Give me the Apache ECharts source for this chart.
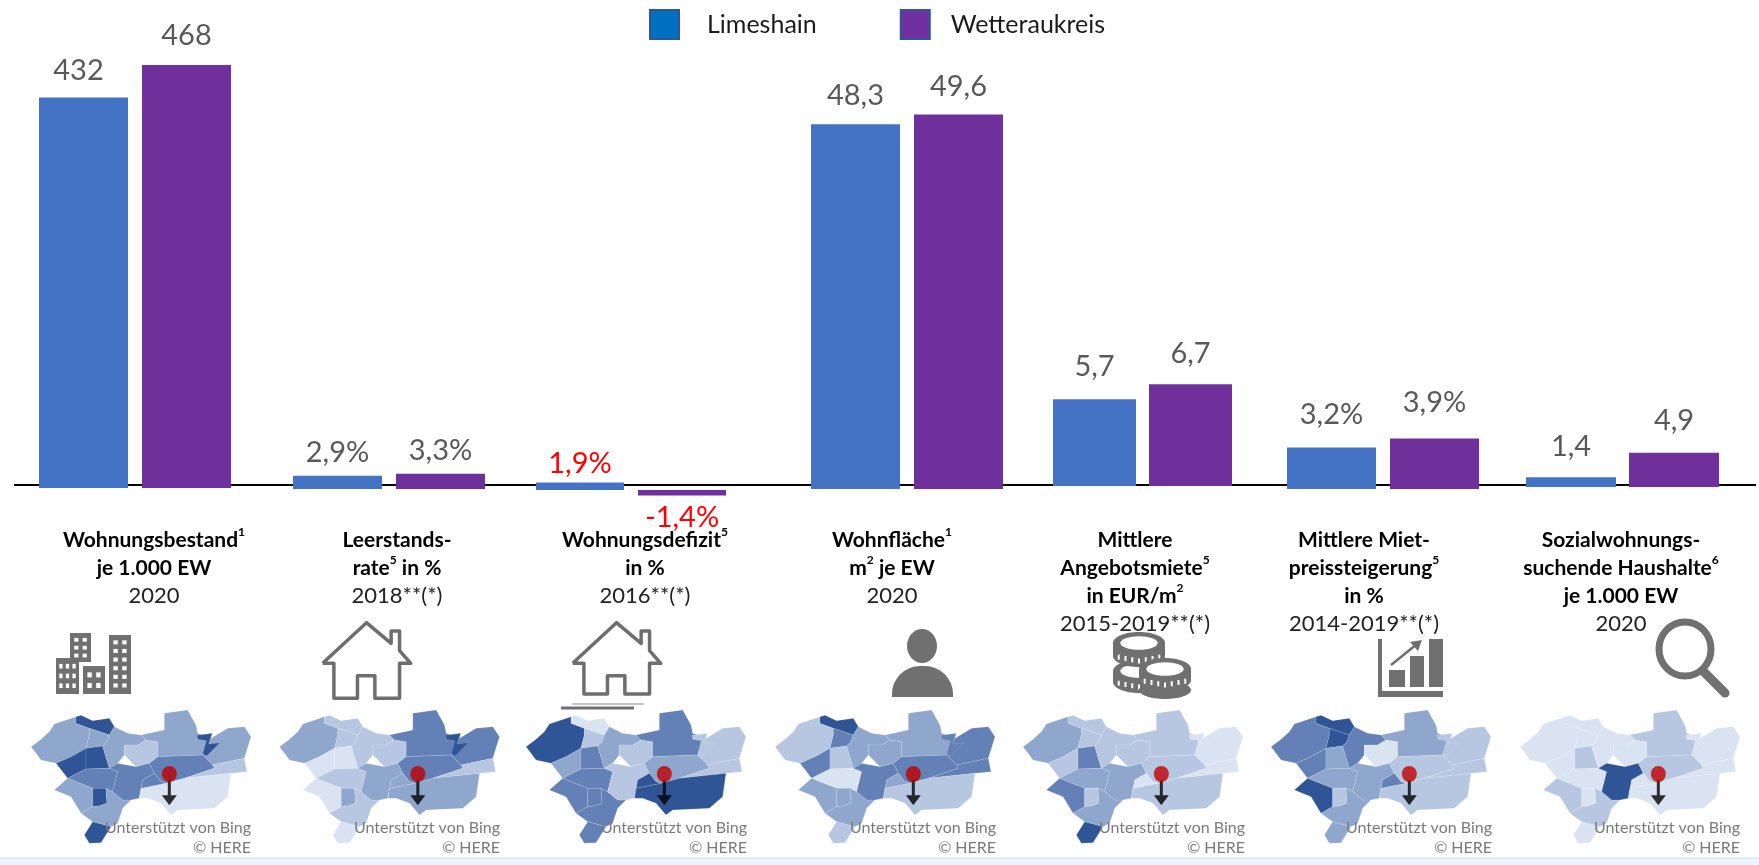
<!DOCTYPE html>
<html><head><meta charset="utf-8">
<style>html,body{margin:0;padding:0;background:#fff}#c{width:1759px;height:865px}</style>
<script src="https://cdn.jsdelivr.net/npm/echarts@6/dist/echarts.min.js"></script>
</head><body><div id="c"></div>
<script>
// ---------- data ----------
const seriesNames = ['Limeshain', 'Wetteraukreis'];
const categories = ['Wohnungsbestand', 'Leerstandsrate', 'Wohnungsdefizit', 'Wohnfläche', 'Mittlere Angebotsmiete', 'Mittlere Mietpreissteigerung', 'Sozialwohnungssuchende Haushalte'];
const limeshain = [432, 2.9, 1.9, 48.3, 5.7, 3.2, 1.4];
const wetteraukreis = [468, 3.3, -1.4, 49.6, 6.7, 3.9, 4.9];
const limeshainLabels = ['432', '2,9%', '1,9%', '48,3', '5,7', '3,2%', '1,4'];
const wetteraukreisLabels = ['468', '3,3%', '-1,4%', '49,6', '6,7', '3,9%', '4,9'];
const titles = [
  '{b|Wohnungsbestand}{s|1}\n{b|je 1.000 EW}\n{y|2020}',
  '{b|Leerstands-}\n{b|rate}{s|5}{b| in %}\n{y|2018**(*)}',
  '{b|Wohnungsdefizit}{s|5}\n{b|in %}\n{y|2016**(*)}',
  '{b|Wohnfläche}{s|1}\n{b|m}{s|2}{b| je EW}\n{y|2020}',
  '{b|Mittlere}\n{b|Angebotsmiete}{s|5}\n{b|in EUR/m}{s|2}\n{y|2015-2019**(*)}',
  '{b|Mittlere Miet-}\n{b|preissteigerung}{s|5}\n{b|in %}\n{y|2014-2019**(*)}',
  '{b|Sozialwohnungs-}\n{b|suchende Haushalte}{s|6}\n{b|je 1.000 EW}\n{y|2020}'
];
// choropleth class (0 light .. 4 dark) of each map region, one list per map
const regionNames = ['R1','R2','R3','R4','R5','R6','R7','R8','R9','R10','R11','R12','R13','R14','R15','R16','R17','R18','R19','R20'];
const map1Classes = [2,4,2,4,4,3,2,4,2,4,2,1,2,2,4,3,3,1,0,3];
const map2Classes = [2,1,1,0,0,1,0,2,1,0,1,1,3,3,4,2,3,1,2,2];
const map3Classes = [4,0,1,2,3,3,3,3,3,3,2,1,3,1,1,1,2,1,4,4];
const map4Classes = [1,4,3,3,1,0,2,2,2,1,2,2,2,3,3,3,3,3,1,2];
const map5Classes = [2,1,1,1,3,2,3,1,2,4,1,1,1,0,0,2,1,0,1,0];
const map6Classes = [3,4,4,3,2,2,4,1,2,2,3,0,2,1,1,2,1,1,1,3];
const map7Classes = [0,0,0,0,1,0,1,0,1,0,0,0,1,0,0,4,1,0,0,0];
const mapClasses = [map1Classes,map2Classes,map3Classes,map4Classes,map5Classes,map6Classes,map7Classes];
const pinLocation = [[445,-222]];
const arrowLocation = [[445,-278]];

// ---------- layout ----------
const panels = [
 {l:39,  w:192, bar:89, gap:14, base:488, k:0.904, max:480, min:0},
 {l:293, w:192, bar:89, gap:14, base:489, k:4.6,   max:4,   min:0},
 {l:536, w:190, bar:88, gap:14, base:490, k:4,     max:3,   min:-2},
 {l:811, w:192, bar:89, gap:14, base:489, k:7.55,  max:50,  min:0},
 {l:1053,w:179, bar:83, gap:13, base:486, k:15.2,  max:7,   min:0},
 {l:1287,w:192, bar:89, gap:14, base:489, k:12.95, max:4,   min:0},
 {l:1526,w:193, bar:90, gap:13, base:487, k:7,     max:5,   min:0}
];
const labelGaps = [[12.5,14.5],[9,9],[4,8],[14.5,13.5],[18,16],[18,21.5],[16,18]];
const titleX = [154,397,645,892,1135,1364,1621];
const mapLeft = [31,279.5,526,775,1023,1271,1520];
const mapRight = [251,500,747,996,1245,1492,1740];
const classColors = ['#DAE3F2','#B7C7E1','#8FA6CD','#6381B6','#2F5597'];
const GRAY = '#707070';

// hand-traced simplified region outlines (picture pixels of the first small map)
const regionShapes = {
 R1:[[30,140],[60,118],[85,95],[100,72],[165,50],[165,70],[205,85],[205,105],[195,145],[150,170],[105,190],[60,180],[45,160]],
 R2:[[165,50],[180,46],[215,62],[265,55],[280,80],[265,105],[205,85],[165,70]],
 R3:[[205,85],[265,105],[258,125],[245,138],[195,145],[205,105]],
 R4:[[105,190],[150,170],[195,145],[195,207],[140,235]],
 R5:[[195,145],[245,138],[265,205],[195,207]],
 R6:[[140,235],[195,207],[265,205],[290,215],[275,275],[255,265],[215,265],[165,245]],
 R7:[[100,270],[140,235],[165,245],[215,265],[215,320],[180,340],[150,290]],
 R8:[[215,265],[255,265],[258,310],[235,318],[215,320]],
 R9:[[180,340],[215,320],[235,318],[258,310],[255,265],[275,275],[305,300],[330,300],[305,325],[290,370],[270,380],[215,365]],
 R10:[[190,405],[215,365],[270,380],[240,428],[205,430]],
 R11:[[245,138],[258,125],[265,105],[280,80],[320,100],[360,105],[375,120],[350,135],[310,135],[310,165],[290,190],[265,205]],
 R12:[[310,135],[350,135],[375,120],[410,125],[410,170],[385,190],[345,200],[310,165]],
 R13:[[430,40],[500,30],[525,75],[530,100],[570,115],[545,165],[410,170],[410,125],[375,120],[360,105],[430,90]],
 R14:[[570,115],[620,85],[670,80],[690,110],[670,175],[575,195],[545,165]],
 R15:[[528,106],[574,100],[563,132],[597,128],[557,168],[545,162],[556,122],[530,118]],
 R16:[[265,205],[290,190],[345,200],[385,190],[400,220],[365,240],[355,295],[330,300],[305,300],[275,275],[290,215]],
 R17:[[385,190],[410,170],[545,165],[575,195],[580,205],[490,235],[435,250],[420,245],[400,220]],
 R18:[[580,205],[575,195],[670,175],[678,215],[630,220],[490,235]],
 R19:[[360,265],[435,250],[490,235],[630,220],[620,290],[580,325],[470,330],[450,345],[420,310],[380,295],[355,295]],
 R20:[[365,240],[400,220],[420,245],[435,250],[360,265],[355,295]]
};
echarts.registerMap('region', {type:'FeatureCollection', features: regionNames.map(n => ({
  type:'Feature', properties:{name:n},
  geometry:{type:'Polygon', coordinates:[regionShapes[n].concat([regionShapes[n][0]]).map(p => [p[0], -p[1]])]}
}))});

// ---------- decorations ----------
const els = [];
const zx = (x, off) => x / 1.782 + (off || 0);
const zy = y => 610 + y / 3;
const rect = (x,y,w,h,fill) => els.push({type:'rect', z:5, shape:{x,y,width:w,height:h}, style:{fill:fill||GRAY}});
els.push({type:'line', z:1, shape:{x1:14,y1:485,x2:1756,y2:485}, style:{stroke:'#000',lineWidth:2}});
els.push({type:'rect', z:1, shape:{x:0,y:858,width:1759,height:7}, style:{fill:'#EFF4FC'}});
els.push({type:'line', z:1, shape:{x1:0,y1:858,x2:1759,y2:858}, style:{stroke:'#DDE7F6',lineWidth:1.5}});

// buildings
function tower(x,y,w,h,cols,rows){
  rect(x,y,w,h);
  const cw=w/(cols*2+1), rh=h/(rows*2+1);
  for(let c=0;c<cols;c++)for(let r=0;r<rows;r++) rect(x+cw*(2*c+1),y+rh*(2*r+1)*0.95+1,cw,rh*0.9,'#fff');
}
tower(70,633,21,29,2,3); tower(56,658,23,36,3,3); tower(83,666,22,28,2,2); tower(109,635,22,59,2,6);
// houses
function house(off, bottom){
  const p=[[575,160],[653,38],[697,100],[697,63],[712,63],[712,122],[732,160],[712,160],[712,bottom],[668,bottom],[668,197],[637,197],[637,bottom],[595,bottom],[595,160],[575,160]];
  els.push({type:'polyline', z:5, shape:{points:p.map(q=>[zx(q[0],off),zy(q[1])])}, style:{stroke:'#6e6e6e',lineWidth:3.5,fill:null,lineJoin:'round'}});
}
house(0,265); house(250,252);
rect(561,706.5,73,3); rect(572,703.5,72,1,'#8a8a8a');
// person
els.push({type:'ellipse',z:5,shape:{cx:922,cy:646,rx:15,ry:17},style:{fill:GRAY}});
els.push({type:'rect',z:5,shape:{x:892,y:666,width:61,height:31,r:[28,28,0,0]},style:{fill:GRAY}});
// coins
function coin(cx,cy,rx,ry,h){
  els.push({type:'ellipse',z:5,shape:{cx,cy:cy+h,rx,ry},style:{fill:GRAY}});
  rect(cx-rx,cy,rx*2,h);
  for(let i=-3;i<=3;i++) rect(cx+i*rx*0.26-1,cy+h+ry*0.45*(1-Math.abs(i)/4)-2.5,2,5,'#fff');
  els.push({type:'ellipse',z:5,shape:{cx,cy,rx,ry},style:{fill:GRAY}});
  els.push({type:'ellipse',z:5,shape:{cx,cy,rx:rx*0.72,ry:ry*0.62},style:{fill:'#fff'}});
}
coin(1139,671,26,11,11); coin(1139,643,26,11,13);
els.push({type:'ellipse',z:5,shape:{cx:1165,cy:690,rx:26,ry:9},style:{fill:GRAY}});
coin(1165,669,26,11,11);
// growth chart
rect(1378,639,4,58); rect(1378,691,65,6);
rect(1389,670,16,17); rect(1410,656,14,31); rect(1429,639,14,48);
els.push({type:'line',z:5,shape:{x1:1391,y1:665,x2:1417,y2:644},style:{stroke:GRAY,lineWidth:2.5}});
els.push({type:'polygon',z:5,shape:{points:[[1422,640],[1410,642],[1418,651]]},style:{fill:GRAY}});
// magnifier
els.push({type:'ellipse',z:5,shape:{cx:1685,cy:649,rx:26,ry:27},style:{stroke:GRAY,lineWidth:7,fill:null}});
els.push({type:'line',z:5,shape:{x1:1704,y1:672,x2:1725,y2:693},style:{stroke:GRAY,lineWidth:9,lineCap:'round'}});

// group titles
titles.forEach((t,i)=>els.push({type:'text', z:6, x:titleX[i], y:526, style:{
  text:t, align:'center', verticalAlign:'top', fontFamily:'Lato', rich:{
    b:{fontFamily:'Lato',fontWeight:'bold',fontSize:21,lineHeight:28,fill:'#000',color:'#000'},
    s:{fontFamily:'Lato',fontWeight:'bold',fontSize:12,lineHeight:24,verticalAlign:'top',fill:'#000',color:'#000'},
    y:{fontFamily:'Lato',fontSize:22,lineHeight:28,fill:'#222',color:'#222'}
  }}}));
// map credits
mapRight.forEach(r=>{
  els.push({type:'text',z:6,x:r,y:828,style:{text:'Unterstützt von Bing',align:'right',verticalAlign:'middle',fontFamily:'Lato',fontSize:16,fill:'#7a7a7a'}});
  els.push({type:'text',z:6,x:r,y:848,style:{text:'© HERE',align:'right',verticalAlign:'middle',fontFamily:'Lato',fontSize:16,fill:'#7a7a7a'}});
});

// ---------- option ----------
const grid=[], xAxis=[], yAxis=[], series=[], geo=[];
panels.forEach((p,i)=>{
  grid.push({left:p.l, width:p.w, top:p.base-p.k*p.max, height:p.k*(p.max-p.min), containLabel:false});
  xAxis.push({type:'category', gridIndex:i, data:[categories[i]], show:false});
  yAxis.push({type:'value', gridIndex:i, min:p.min, max:p.max, show:false});
  [limeshain, wetteraukreis].forEach((vals,j)=>{
    const v=vals[i], lab=(j?wetteraukreisLabels:limeshainLabels)[i];
    series.push({
      type:'bar', name:seriesNames[j], xAxisIndex:i, yAxisIndex:i, barWidth:p.bar, barGap:(p.gap/p.bar*100)+'%',
      itemStyle:{color:j?'#70309C':'#4472C4'}, silent:true,
      data:[{value:v, label:{show:true, position:v<0?'bottom':'top', distance:labelGaps[i][j],
        formatter:lab, fontFamily:'Lato', fontSize:29, color:i===2?'#FF0000':'#595959',
        offset:[(i===0&&j===0)?-5:0,0]}}]
    });
  });
});
mapLeft.forEach((l,i)=>{
  geo.push({map:'region', left:l, top:710, width:220, height:133.3, aspectScale:1, roam:false, silent:true, z:3,
    label:{show:false}, emphasis:{disabled:true}, select:{disabled:true},
    itemStyle:{areaColor:classColors[0], borderColor:'rgba(255,255,255,0.25)', borderWidth:0.5},
    regions:regionNames.map((n,k)=>({name:n, itemStyle:{areaColor:classColors[mapClasses[i][k]]}}))});
  series.push({type:'scatter', coordinateSystem:'geo', geoIndex:i, name:'Pfeil', silent:true, z:4, data:arrowLocation,
    symbol:'path://M6 0H9V15H15L7.5 25L0 15H6Z', symbolSize:[15,25], itemStyle:{color:'#000'}});
  series.push({type:'scatter', coordinateSystem:'geo', geoIndex:i, name:'Standort', silent:true, z:5, data:pinLocation,
    symbol:'circle', symbolSize:[15,16], itemStyle:{color:'#C00000'}});
});

const legendText = {fontFamily:'Lato', fontSize:25, color:'#1a1a1a'};
const chart = echarts.init(document.getElementById('c'));
chart.setOption({
  animation:false, backgroundColor:'#fff',
  legend:{left:644, top:4, itemWidth:29, itemHeight:29, itemGap:83, selectedMode:false,
    data:[
      {name:'Limeshain', icon:'rect', itemStyle:{color:'#0070C0',borderColor:'#2F5597',borderWidth:2}, textStyle:Object.assign({padding:[0,0,0,23]},legendText)},
      {name:'Wetteraukreis', icon:'rect', itemStyle:{color:'#7030A0',borderColor:'#2F5597',borderWidth:2}, textStyle:Object.assign({padding:[0,0,0,16]},legendText)}
    ],
    textStyle:legendText},
  grid, xAxis, yAxis, geo, series,
  graphic:{elements:els}
});
</script></body></html>
